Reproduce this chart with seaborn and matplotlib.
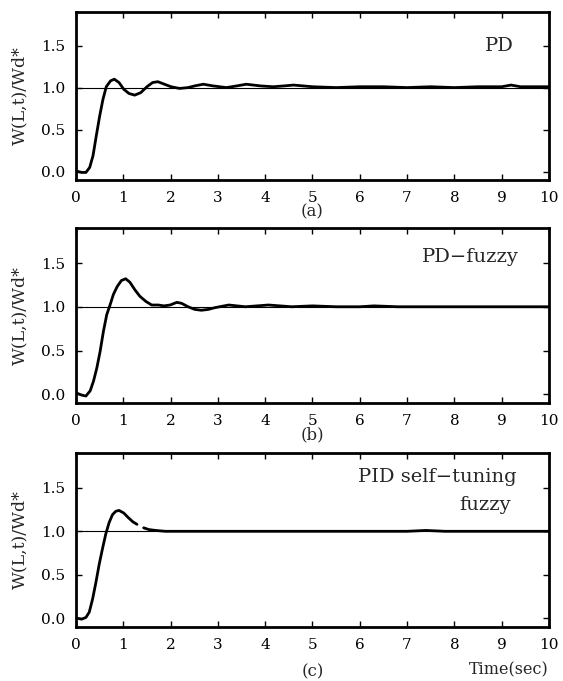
import numpy as np
import pandas as pd
import matplotlib
matplotlib.use("Agg")
import matplotlib.pyplot as plt
import seaborn as sns

# ---- data ----
pd_t = [0.0, 0.05, 0.12, 0.21, 0.29, 0.36, 0.43, 0.50, 0.57, 0.64, 0.73, 0.81, 0.91,
        1.01, 1.12, 1.24, 1.37, 1.50, 1.62, 1.73, 1.87, 2.01, 2.19, 2.37, 2.51, 2.69,
        2.90, 3.18, 3.40, 3.60, 3.90, 4.17, 4.40, 4.60, 4.80, 5.0, 5.5, 6.0, 6.5, 7.0,
        7.5, 8.0, 8.5, 9.0, 9.2, 9.4, 10.0]
pd_y = [0.0, 0.0, -0.01, -0.01, 0.05, 0.19, 0.43, 0.66, 0.86, 1.01, 1.08, 1.10, 1.06,
        0.98, 0.93, 0.91, 0.94, 1.01, 1.06, 1.07, 1.04, 1.01, 0.99, 1.00, 1.02, 1.04,
        1.02, 1.00, 1.02, 1.04, 1.02, 1.01, 1.02, 1.03, 1.02, 1.01, 1.00, 1.01, 1.01, 1.00,
        1.01, 1.00, 1.01, 1.01, 1.03, 1.01, 1.01]

fz_t = [0.0, 0.03, 0.12, 0.21, 0.30, 0.37, 0.44, 0.51, 0.58, 0.65, 0.72, 0.79, 0.87,
        0.96, 1.05, 1.14, 1.25, 1.35, 1.48, 1.60, 1.74, 1.86, 1.99, 2.13, 2.23, 2.37,
        2.51, 2.65, 2.80, 2.94, 3.23, 3.58, 4.07, 4.56, 5.0, 5.5, 6.0, 6.3, 6.8, 7.5,
        8.0, 8.5, 9.0, 9.5, 10.0]
fz_y = [0.0, 0.01, -0.01, -0.02, 0.04, 0.15, 0.30, 0.49, 0.72, 0.91, 1.02, 1.14, 1.23,
        1.30, 1.32, 1.28, 1.19, 1.12, 1.06, 1.02, 1.02, 1.01, 1.02, 1.05, 1.04, 1.00,
        0.97, 0.96, 0.97, 0.99, 1.02, 1.00, 1.02, 1.00, 1.01, 1.00, 1.00, 1.01, 1.00, 1.00,
        1.00, 1.00, 1.00, 1.00, 1.00]

pid_t = [0.0, 0.03, 0.12, 0.21, 0.28, 0.35, 0.42, 0.49, 0.56, 0.63, 0.70, 0.77, 0.84,
         0.91, 1.01, 1.10, 1.20, 1.29,
         1.43, 1.54, 1.68, 1.89, 2.5, 3.0, 4.0, 5.0, 6.0, 7.0, 7.4, 7.8, 8.5, 9.0, 10.0]
pid_y = [0.0, 0.0, -0.01, 0.01, 0.07, 0.22, 0.41, 0.62, 0.80, 0.97, 1.10, 1.19, 1.23,
         1.24, 1.21, 1.16, 1.11, 1.08,
         1.04, 1.02, 1.01, 1.00, 1.00, 1.00, 1.00, 1.00, 1.00, 1.00, 1.01, 1.00, 1.00, 1.00, 1.00]
pid_seg = [0] * 18 + [1] * 15

x_ticks = list(range(0, 11))
y_ticks = [0.0, 0.5, 1.0, 1.5]
y_tick_labels = ["0.0", "0.5", "1.0", "1.5"]
reference = 1.0

panels = [
    dict(t=pd_t, y=pd_y, seg=None, label="PD", sub="(a)"),
    dict(t=fz_t, y=fz_y, seg=None, label="PD\u2212fuzzy", sub="(b)"),
    dict(t=pid_t, y=pid_y, seg=pid_seg, label="PID self\u2212tuning\nfuzzy", sub="(c)"),
]

sns.set_style("ticks")
plt.rcParams["font.family"] = ["DejaVu Serif"]
plt.rcParams["mathtext.fontset"] = "dejavuserif"

fig = plt.figure(figsize=(5.63, 6.81), dpi=100)
rects = [
    [0.135, 0.7357, 0.840, 0.2467],
    [0.135, 0.4082, 0.840, 0.2570],
    [0.135, 0.0793, 0.840, 0.2555],
]
label_pos = [(9.25, 1.49), (9.36, 1.57), (9.32, 1.62)]

for i, (p, r) in enumerate(zip(panels, rects)):
    ax = fig.add_axes(r)
    ax.axhline(reference, color="black", lw=0.8, zorder=1)
    if p["seg"] is None:
        df = pd.DataFrame({"t": p["t"], "y": p["y"]})
        sns.lineplot(data=df, x="t", y="y", ax=ax, color="black", lw=2.0,
                     estimator=None, sort=False, zorder=3)
    else:
        df = pd.DataFrame({"t": p["t"], "y": p["y"], "seg": p["seg"]})
        sns.lineplot(data=df, x="t", y="y", units="seg", ax=ax, color="black",
                     lw=2.0, estimator=None, sort=False, zorder=3)
    ax.set_xlim(0, 10)
    ax.set_ylim(-0.1, 1.9)
    ax.set_xticks(x_ticks)
    ax.set_yticks(y_ticks)
    ax.set_yticklabels(y_tick_labels)
    ax.tick_params(direction="in", length=4, width=1.0, top=True, right=True,
                   labelsize=11, pad=8, colors="black")
    for s in ax.spines.values():
        s.set_linewidth(2.0)
        s.set_color("black")
    ax.set_ylabel("W(L,t)/Wd*", fontsize=12.5, labelpad=9)
    lx, ly = label_pos[i]
    if i == 2:
        ax.text(lx, ly, "PID self\u2212tuning", ha="right", va="center", fontsize=14)
        ax.text(lx - 0.12, 1.30, "fuzzy", ha="right", va="center", fontsize=14)
        ax.set_xlabel(p["sub"], fontsize=12, labelpad=8)
        ax.text(1.0, -0.245, "Time(sec)", transform=ax.transAxes, ha="right",
                va="center", fontsize=11.5)
    else:
        ax.text(lx, ly, p["label"], ha="right", va="center", fontsize=14)
        ax.set_xlabel(p["sub"], fontsize=12, labelpad=-1)

fig.savefig("out.png", dpi=100)
